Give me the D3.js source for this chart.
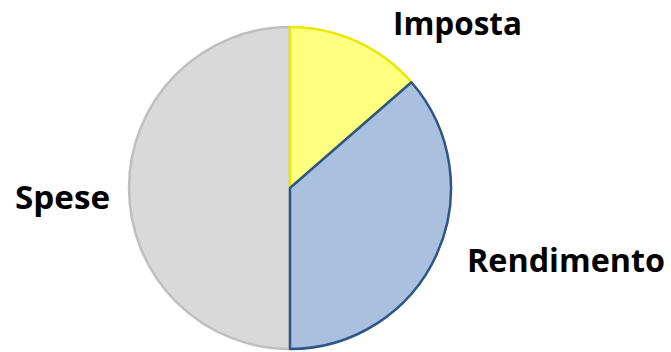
<!DOCTYPE html>
<html>
<head>
<meta charset="utf-8">
<script src="https://d3js.org/d3.v7.min.js"></script>
<style>
body { margin: 0; background: #fff; }
.label { font-family: "Open Sans", Lato, sans-serif; font-weight: bold; font-size: 32px; fill: #000; }
</style>
</head>
<body>
<div id="chart"></div>
<script>
// slice names and shares (percent), clockwise from 12 o'clock
var labels = ["Imposta", "Rendimento", "Spese"];
var values = [13.6, 36.4, 50];

var fills = ["#ffff80", "#a9c0df", "#d9d9d9"];
var strokes = ["#e8e800", "#2e5585", "#bfbfbf"];

const width = 671, height = 352;
const cx = 290, cy = 188, r = 161;

var svg = d3.select("#chart")
  .append("svg")
    .attr("width", width)
    .attr("height", height);

var pie = d3.pie().sort(null).value(function(d) { return d; });
var arc = d3.arc().innerRadius(0).outerRadius(r);

var arcs = pie(values);

var g = svg.append("g")
  .attr("transform", "translate(" + cx + "," + cy + ")");

// draw spese first, then imposta, then rendimento so the dark border is on top
var order = [2, 0, 1];
g.selectAll("path")
    .data(order.map(function(i) { return {a: arcs[i], i: i}; }))
  .enter().append("path")
    .attr("d", function(d) { return arc(d.a); })
    .attr("fill", function(d) { return fills[d.i]; })
    .attr("stroke", function(d) { return strokes[d.i]; })
    .attr("stroke-width", 2.5)
    .attr("stroke-linejoin", "round");

// label positions (absolute) and widths to match the original font
var labelPos = [
  {x: 393, y: 35, w: 129},
  {x: 467, y: 272, w: 198},
  {x: 15, y: 209, w: 95}
];

svg.selectAll(".label")
    .data(labels)
  .enter().append("text")
    .attr("class", "label")
    .attr("x", function(d, i) { return labelPos[i].x; })
    .attr("y", function(d, i) { return labelPos[i].y; })
    .attr("textLength", function(d, i) { return labelPos[i].w; })
    .attr("lengthAdjust", "spacingAndGlyphs")
    .text(function(d) { return d; });
</script>
</body>
</html>
